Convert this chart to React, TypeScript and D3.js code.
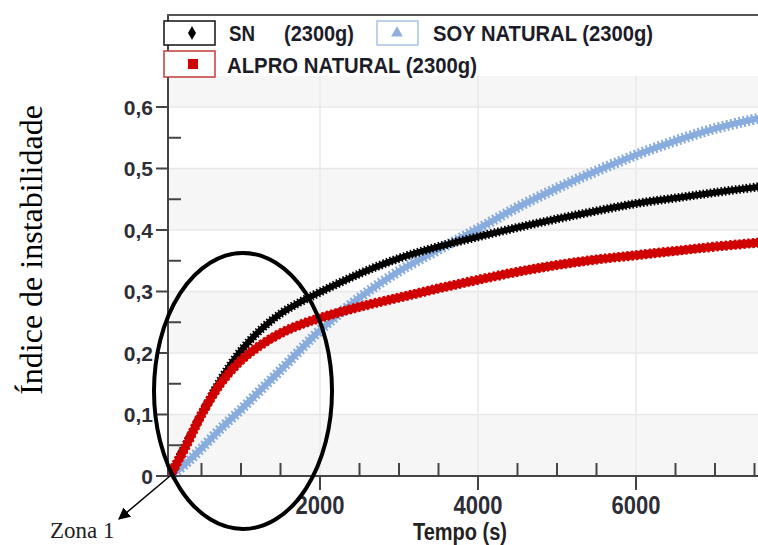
import * as d3 from 'd3';
import { useEffect, useRef } from 'react';

// tempo (s) and instability index
const tempo = [100, 300, 500, 750, 1000, 1250, 1500, 1750, 2000, 2500, 3000, 3500, 4000, 4500, 5000, 5500, 6000, 6500, 7000, 7600];
const sn = [0, 0.05, 0.1, 0.158, 0.204, 0.238, 0.264, 0.283, 0.299, 0.329, 0.354, 0.373, 0.389, 0.404, 0.418, 0.431, 0.443, 0.452, 0.461, 0.471];
const alpro = [0, 0.048, 0.1, 0.152, 0.188, 0.213, 0.232, 0.246, 0.257, 0.275, 0.29, 0.305, 0.319, 0.332, 0.343, 0.352, 0.359, 0.366, 0.373, 0.38];
const soy = [0, 0.02, 0.045, 0.078, 0.108, 0.14, 0.172, 0.205, 0.237, 0.29, 0.333, 0.368, 0.402, 0.437, 0.468, 0.496, 0.522, 0.545, 0.565, 0.583];

const yTicks = [0, 0.1, 0.2, 0.3, 0.4, 0.5, 0.6];
const yTickLabels = ['0', '0,1', '0,2', '0,3', '0,4', '0,5', '0,6'];
const yMinor = [0.05, 0.15, 0.25, 0.35, 0.45, 0.55];
const xTicks = [2000, 4000, 6000];
const xMinor = [500, 1000, 1500, 2500, 3000, 3500, 4500, 5000, 5500, 6500, 7000, 7500];

const width = 758, height = 545;

const App = () => {
  const svgRef = useRef(null);

  useEffect(() => {
    const svg = d3.select(svgRef.current);
    svg.selectAll('*').remove();

    const x = d3.scaleLinear().domain([0, 6000]).range([162, 636]);
    const y = d3.scaleLinear().domain([0, 0.6]).range([476, 107]);
    const left = 168, top = 76, bottom = 476, right = width;

    svg.append('rect').attr('width', width).attr('height', height).attr('fill', '#fff');

    // plot background bands
    const bands = [0, 0.2, 0.4, 0.6];
    bands.forEach(b => {
      const y1 = Math.max(top, y(b + 0.1));
      svg.append('rect').attr('x', left).attr('y', y1)
        .attr('width', right - left).attr('height', y(b) - y1).attr('fill', '#f6f6f6');
    });
    // grid
    yTicks.slice(1).forEach(t => {
      svg.append('line').attr('x1', left).attr('x2', right).attr('y1', y(t)).attr('y2', y(t))
        .attr('stroke', '#e8e8e8').attr('stroke-width', 1.5);
    });
    xTicks.forEach(t => {
      svg.append('line').attr('x1', x(t)).attr('x2', x(t)).attr('y1', top).attr('y2', bottom)
        .attr('stroke', '#e8e8e8').attr('stroke-width', 1.5);
    });

    // curves
    svg.append('clipPath').attr('id', 'plotclip').append('rect')
      .attr('x', left).attr('y', top).attr('width', right - left).attr('height', bottom - top + 6);
    const g = svg.append('g').attr('clip-path', 'url(#plotclip)');
    const line = d3.line().x(d => x(d[0])).y(d => y(d[1])).curve(d3.curveCatmullRom.alpha(0.5));
    const series = [
      { vals: soy, color: '#88acdd', w: 6, tw: 11, dash: '2 2.2' },
      { vals: sn, color: '#000000', w: 6, tw: 9, dash: '1.6 2' },
      { vals: alpro, color: '#d00000', w: 8, tw: 10, dash: '2.5 2' },
    ];
    series.forEach(s => {
      const pts = tempo.map((t, i) => [t, s.vals[i]]);
      g.append('path').attr('d', line(pts)).attr('fill', 'none')
        .attr('stroke', s.color).attr('stroke-width', s.w).attr('stroke-linejoin', 'round');
      g.append('path').attr('d', line(pts)).attr('fill', 'none')
        .attr('stroke', s.color).attr('stroke-width', s.tw).attr('stroke-dasharray', s.dash);
    });

    // axes
    const axisCol = '#444';
    svg.append('line').attr('x1', left).attr('x2', left).attr('y1', 15).attr('y2', bottom + 1)
      .attr('stroke', axisCol).attr('stroke-width', 2);
    svg.append('line').attr('x1', 167).attr('x2', right).attr('y1', 15).attr('y2', 15)
      .attr('stroke', '#555').attr('stroke-width', 2);
    svg.append('line').attr('x1', left).attr('x2', right).attr('y1', bottom).attr('y2', bottom)
      .attr('stroke', axisCol).attr('stroke-width', 2);

    yTicks.forEach((t, i) => {
      svg.append('line').attr('x1', 156).attr('x2', left).attr('y1', y(t)).attr('y2', y(t))
        .attr('stroke', axisCol).attr('stroke-width', 2);
      svg.append('text').attr('x', 153).attr('y', y(t)).attr('dy', '0.36em')
        .attr('text-anchor', 'end').attr('font-family', 'Liberation Sans, Arial, sans-serif')
        .attr('font-weight', 'bold').attr('font-size', 21).attr('fill', '#2e2e36')
        .text(yTickLabels[i]);
    });
    yMinor.forEach(t => {
      svg.append('line').attr('x1', left).attr('x2', 181).attr('y1', y(t)).attr('y2', y(t))
        .attr('stroke', axisCol).attr('stroke-width', 2);
    });
    xMinor.forEach(t => {
      svg.append('line').attr('x1', x(t)).attr('x2', x(t)).attr('y1', 463).attr('y2', bottom)
        .attr('stroke', axisCol).attr('stroke-width', 2);
    });
    xTicks.forEach(t => {
      svg.append('line').attr('x1', x(t)).attr('x2', x(t)).attr('y1', bottom).attr('y2', 490)
        .attr('stroke', axisCol).attr('stroke-width', 2);
      svg.append('text').attr('x', x(t)).attr('y', 514)
        .attr('text-anchor', 'middle').attr('font-family', 'Liberation Sans, Arial, sans-serif')
        .attr('font-weight', 'bold').attr('font-size', 25).attr('fill', '#2e2e36')
        .attr('textLength', 49).attr('lengthAdjust', 'spacingAndGlyphs')
        .text(String(t));
    });
    svg.append('text').attr('x', 460).attr('y', 540)
      .attr('text-anchor', 'middle').attr('font-family', 'Liberation Sans, Arial, sans-serif')
      .attr('font-weight', 'bold').attr('font-size', 23).attr('fill', '#222')
      .attr('textLength', 94).attr('lengthAdjust', 'spacingAndGlyphs')
      .text('Tempo (s)');

    // legend
    const lf = 'Liberation Sans, Arial, sans-serif';
    const leg = svg.append('g');
    leg.append('rect').attr('x', 164).attr('y', 21).attr('width', 51).attr('height', 24)
      .attr('fill', '#fff').attr('stroke', '#111').attr('stroke-width', 1.5);
    leg.append('path').attr('d', d3.symbol(d3.symbolDiamond, 55)()).attr('transform', 'translate(192,33)').attr('fill', '#000');
    leg.append('rect').attr('x', 377).attr('y', 21).attr('width', 41).attr('height', 24)
      .attr('fill', '#fff').attr('stroke', '#a9c2e6').attr('stroke-width', 1.5);
    leg.append('path').attr('d', d3.symbol(d3.symbolTriangle, 60)()).attr('transform', 'translate(397,33)').attr('fill', '#8fb0de');
    leg.append('rect').attr('x', 164).attr('y', 51).attr('width', 51).attr('height', 26)
      .attr('fill', '#fff').attr('stroke', '#c23b3b').attr('stroke-width', 1.5);
    leg.append('rect').attr('x', 188).attr('y', 59).attr('width', 10).attr('height', 10).attr('fill', '#d00000');

    const legText = (tx, ty, s, len) => leg.append('text').attr('x', tx).attr('y', ty)
      .attr('font-family', lf).attr('font-weight', 'bold').attr('font-size', 22).attr('fill', '#1c1c28')
      .attr('textLength', len).attr('lengthAdjust', 'spacingAndGlyphs').text(s);
    legText(229, 41, 'SN', 26);
    legText(284, 41, '(2300g)', 70);
    legText(433, 41, 'SOY NATURAL (2300g)', 220);
    legText(227, 73, 'ALPRO NATURAL (2300g)', 250);

    // annotation: ellipse, arrow, labels
    svg.append('ellipse').attr('cx', 243).attr('cy', 391).attr('rx', 89).attr('ry', 138)
      .attr('fill', 'none').attr('stroke', '#000').attr('stroke-width', 4);
    svg.append('defs').append('marker').attr('id', 'arr').attr('viewBox', '0 0 10 10')
      .attr('refX', 9).attr('refY', 5).attr('markerWidth', 12).attr('markerHeight', 12)
      .attr('markerUnits', 'userSpaceOnUse').attr('orient', 'auto')
      .append('path').attr('d', 'M0,0L10,5L0,10z').attr('fill', '#000');
    svg.append('line').attr('x1', 170).attr('y1', 476).attr('x2', 119).attr('y2', 519)
      .attr('stroke', '#000').attr('stroke-width', 1.5).attr('marker-end', 'url(#arr)');
    svg.append('text').attr('x', 50).attr('y', 538)
      .attr('font-family', 'Liberation Serif, Times New Roman, serif').attr('font-size', 23)
      .attr('fill', '#222').text('Zona 1');
    svg.append('text').attr('transform', 'translate(42,250) rotate(-90)')
      .attr('text-anchor', 'middle')
      .attr('font-family', 'Liberation Serif, Times New Roman, serif').attr('font-size', 32)
      .attr('fill', '#000').text('Índice de instabilidade');
  }, []);

  return (
    <svg ref={svgRef} width={width} height={height}
      style={{ position: 'absolute', left: 0, top: 0, display: 'block' }} />
  );
};

export default App;
